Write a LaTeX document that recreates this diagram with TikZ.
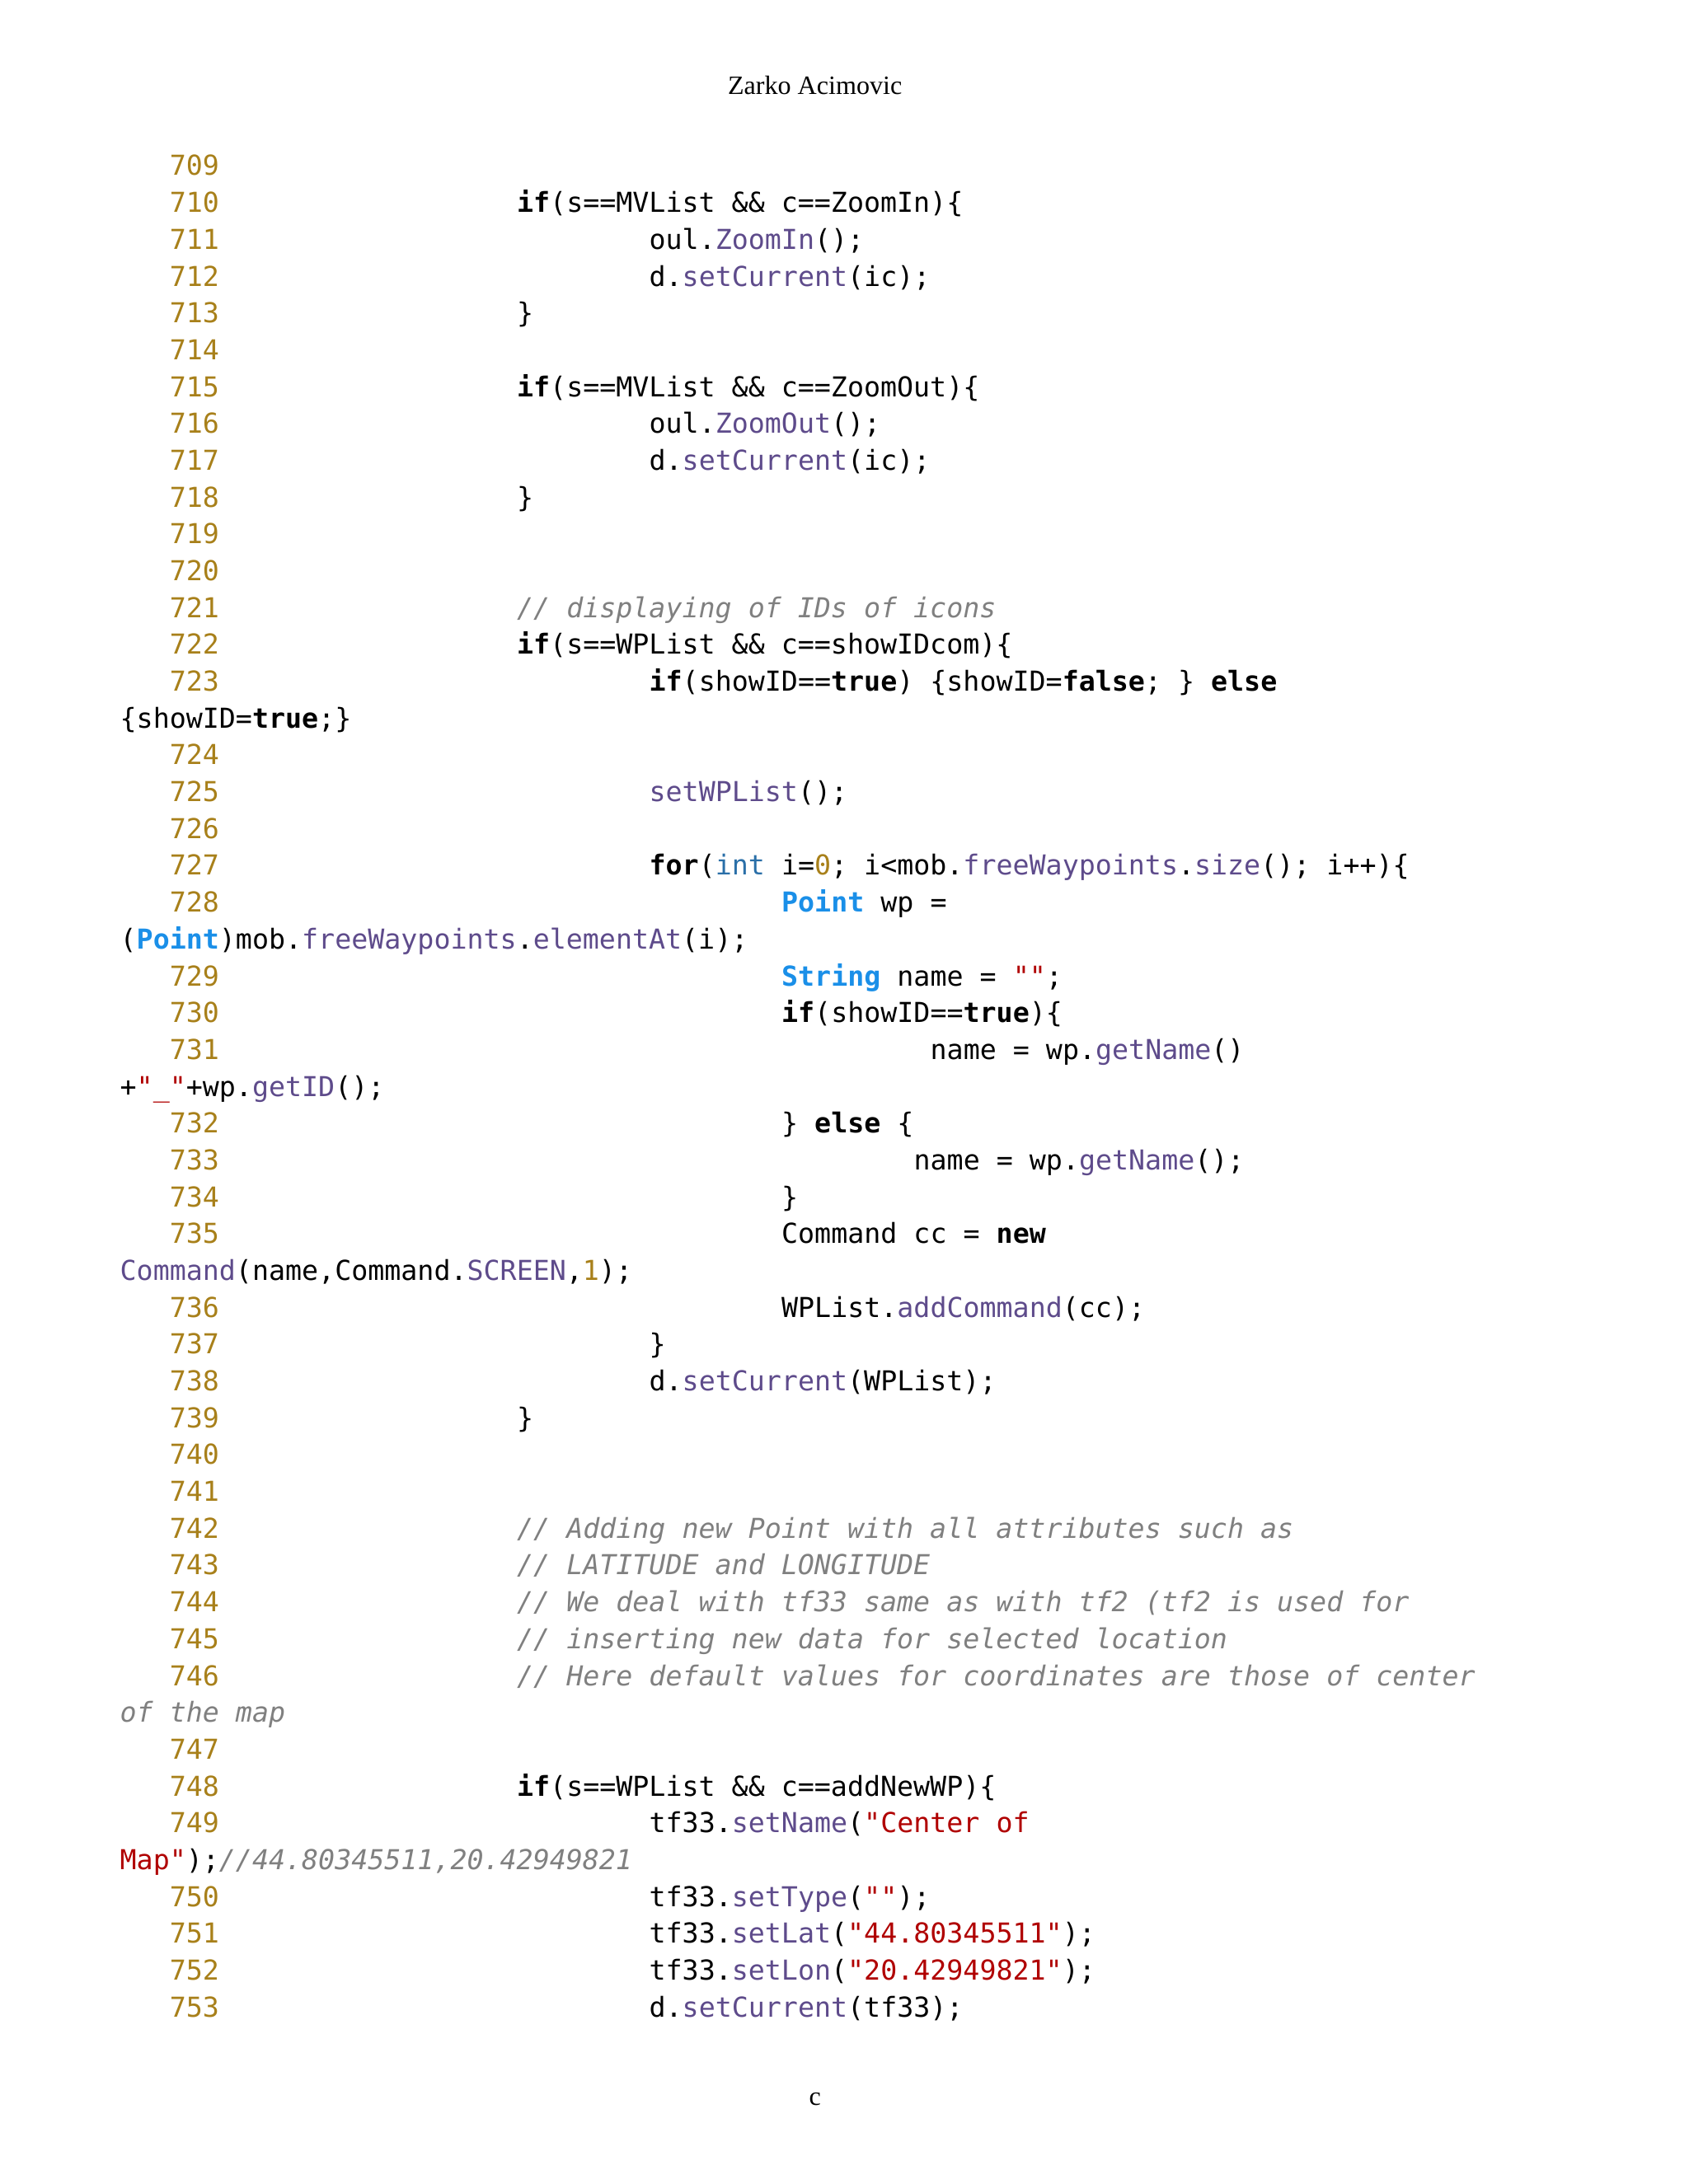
\documentclass[tikz,border=0pt]{standalone}
\usepackage{fontspec}
\setmainfont{Liberation Serif}
\newfontfamily\codefont{DejaVu Sans Mono}
\definecolor{gold}{HTML}{A8801A}
\definecolor{meth}{HTML}{5E4B8B}
\definecolor{typ}{HTML}{1A8FE8}
\definecolor{intc}{HTML}{2A6FA8}
\definecolor{strc}{HTML}{B00000}
\definecolor{comc}{HTML}{808080}
\newcommand\K[1]{\textbf{#1}}
\newcommand\M[1]{\textcolor{meth}{#1}}
\newcommand\T[1]{\textcolor{typ}{\textbf{#1}}}
\newcommand\I[1]{\textcolor{intc}{#1}}
\newcommand\Sq[1]{\textcolor{strc}{#1}}
\newcommand\C[1]{\textcolor{comc}{\itshape #1}}
\newcommand\N[1]{\textcolor{gold}{#1}}
\newcommand\Ln[4]{%
  \node[codetext,text=gold] (n#1) at ({86pt+3*11.87pt},{-126pt-#1*26.44pt}) {#2};
  \node[codetext] (c#1) at ({86pt+#3*11.87pt},{-126pt-#1*26.44pt}) {#4};}
\newcommand\Ct[2]{%
  \node[codetext] (c#1) at (86pt,{-126pt-#1*26.44pt}) {#2};}
\tikzset{codetext/.style={anchor=base west,inner sep=0pt,font=\codefont\fontsize{19.7pt}{24pt}\selectfont}}
\begin{document}
\begin{tikzpicture}
\useasboundingbox (0,0) rectangle (1212pt,-1568pt);
\node[font=\fontsize{19pt}{22pt}\selectfont] (hdr) at (585pt,-61pt) {Zarko Acimovic};
\node[font=\fontsize{19pt}{22pt}\selectfont] (ftr) at (585pt,-1507pt) {c};
\Ln{0}{709}{24}{}
\Ln{1}{710}{24}{\K{if}(s==MVList \&\& c==ZoomIn)\{}
\Ln{2}{711}{32}{oul.\M{ZoomIn}();}
\Ln{3}{712}{32}{d.\M{setCurrent}(ic);}
\Ln{4}{713}{24}{\}}
\Ln{5}{714}{24}{}
\Ln{6}{715}{24}{\K{if}(s==MVList \&\& c==ZoomOut)\{}
\Ln{7}{716}{32}{oul.\M{ZoomOut}();}
\Ln{8}{717}{32}{d.\M{setCurrent}(ic);}
\Ln{9}{718}{24}{\}}
\Ln{10}{719}{24}{}
\Ln{11}{720}{24}{}
\Ln{12}{721}{24}{\C{// displaying of IDs of icons}}
\Ln{13}{722}{24}{\K{if}(s==WPList \&\& c==showIDcom)\{}
\Ln{14}{723}{32}{\K{if}(showID==\K{true}) \{showID=\K{false}; \} \K{else}}
\Ct{15}{\{showID=\K{true};\}}
\Ln{16}{724}{24}{}
\Ln{17}{725}{32}{\M{setWPList}();}
\Ln{18}{726}{24}{}
\Ln{19}{727}{32}{\K{for}(\I{int} i=\N{0}; i<mob.\M{freeWaypoints}.\M{size}(); i++)\{}
\Ln{20}{728}{40}{\T{Point} wp =}
\Ct{21}{(\T{Point})mob.\M{freeWaypoints}.\M{elementAt}(i);}
\Ln{22}{729}{40}{\T{String} name = \Sq{""};}
\Ln{23}{730}{40}{\K{if}(showID==\K{true})\{}
\Ln{24}{731}{49}{name = wp.\M{getName}()}
\Ct{25}{+\Sq{"\_"}+wp.\M{getID}();}
\Ln{26}{732}{40}{\} \K{else} \{}
\Ln{27}{733}{48}{name = wp.\M{getName}();}
\Ln{28}{734}{40}{\}}
\Ln{29}{735}{40}{Command cc = \K{new}}
\Ct{30}{\M{Command}(name,Command.\M{SCREEN},\N{1});}
\Ln{31}{736}{40}{WPList.\M{addCommand}(cc);}
\Ln{32}{737}{32}{\}}
\Ln{33}{738}{32}{d.\M{setCurrent}(WPList);}
\Ln{34}{739}{24}{\}}
\Ln{35}{740}{24}{}
\Ln{36}{741}{24}{}
\Ln{37}{742}{24}{\C{// Adding new Point with all attributes such as}}
\Ln{38}{743}{24}{\C{// LATITUDE and LONGITUDE}}
\Ln{39}{744}{24}{\C{// We deal with tf33 same as with tf2 (tf2 is used for}}
\Ln{40}{745}{24}{\C{// inserting new data for selected location}}
\Ln{41}{746}{24}{\C{// Here default values for coordinates are those of center}}
\Ct{42}{\C{of the map}}
\Ln{43}{747}{24}{}
\Ln{44}{748}{24}{\K{if}(s==WPList \&\& c==addNewWP)\{}
\Ln{45}{749}{32}{tf33.\M{setName}(\Sq{"Center of}}
\Ct{46}{\Sq{Map"});\C{//44.80345511,20.42949821}}
\Ln{47}{750}{32}{tf33.\M{setType}(\Sq{""});}
\Ln{48}{751}{32}{tf33.\M{setLat}(\Sq{"44.80345511"});}
\Ln{49}{752}{32}{tf33.\M{setLon}(\Sq{"20.42949821"});}
\Ln{50}{753}{32}{d.\M{setCurrent}(tf33);}
\end{tikzpicture}
\end{document}
